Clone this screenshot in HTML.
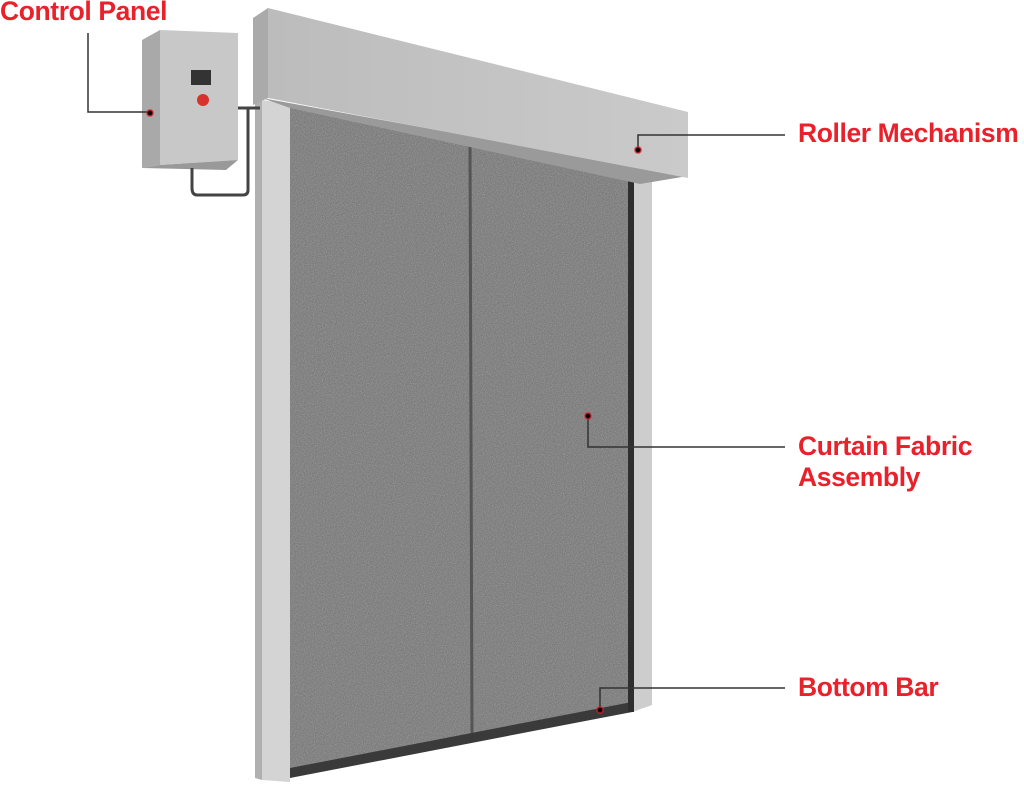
<!DOCTYPE html>
<html><head><style>
html,body{margin:0;padding:0;background:#fff;width:1024px;height:786px;overflow:hidden}
.l{position:absolute;font-family:"Liberation Sans",sans-serif;font-weight:bold;color:#e8212b;font-size:26.5px;letter-spacing:-0.4px;line-height:31px}
</style></head><body>
<svg width="1024" height="786" style="position:absolute;left:0;top:0">
<defs>
<filter id="n" x="0" y="0" width="100%" height="100%">
<feTurbulence type="fractalNoise" baseFrequency="0.9" numOctaves="2" result="t"/>
<feColorMatrix type="matrix" values="0 0 0 0 0.45 0 0 0 0 0.45 0 0 0 0 0.45 0 0 0 1.6 -0.5"/>
<feComposite in2="SourceGraphic" operator="in"/>
</filter>
<linearGradient id="m" x1="0" x2="1"><stop offset="0" stop-color="#c9c9c9"/><stop offset="0.5" stop-color="#dedede"/><stop offset="1" stop-color="#bdbdbd"/></linearGradient>
<linearGradient id="h" x1="0" y1="0" x2="1" y2="0"><stop offset="0" stop-color="#bcbcbc"/><stop offset="1" stop-color="#cacaca"/></linearGradient>
</defs>
<polygon points="290,105 632,180 632,712 290,775" fill="#7a7a7a"/>
<polygon points="290,105 632,180 632,712 290,775" fill="#000" filter="url(#n)" opacity="0.6"/>
<line x1="470" y1="140" x2="472" y2="735" stroke="#555" stroke-width="3"/>
<polygon points="290,768 632,702 632,712 290,778" fill="#3a3a3a"/>
<polygon points="255,100 290,104 290,782 255,778" fill="url(#m)"/>
<polygon points="262,100 290,104 290,782 262,780" fill="#d4d4d4"/>
<polygon points="255,100 262,100 262,780 255,778" fill="#b0b0b0"/>
<polygon points="632,178 652,176 652,705 632,712" fill="#cdcdcd"/>
<polygon points="628,180 634,180 634,712 628,712" fill="#2e2e2e"/>
<polygon points="262,98 688,176 640,184 290,108" fill="#9a9a9a"/>
<polygon points="268,8 688,112 688,178 268,98" fill="url(#h)"/>
<polygon points="253,18 268,8 268,98 253,105" fill="#aaa"/>
<polygon points="142,40 160,30 160,165 142,168" fill="#a9a9a9"/>
<polygon points="160,30 238,33 238,160 160,165" fill="#c8c8c8"/>
<polygon points="142,168 160,165 238,160 226,170" fill="#999"/>
<rect x="191" y="70" width="20" height="15" fill="#333"/>
<circle cx="203" cy="100" r="6" fill="#d8322c"/>
<path d="M238 108 L260 108 M248 108 L248 190 Q248 195 243 195 L197 195 Q192 195 192 188 L192 168" stroke="#444" stroke-width="3" fill="none"/>
<g stroke="#333" stroke-width="1.5" fill="none">
<path d="M88 33 V112 H148"/>
<path d="M638 150 V135 H785"/>
<path d="M588 416 V447 H785"/>
<path d="M600 710 V688 H785"/>
</g>
<g fill="#000" stroke="#e8212b" stroke-opacity="0.6" stroke-width="2">
<circle cx="150" cy="113" r="3"/><circle cx="638" cy="150" r="3"/>
<circle cx="588" cy="416" r="3"/><circle cx="600" cy="710" r="3"/>
</g>
</svg>
<div class="l" style="left:0;top:-4px">Control Panel</div>
<div class="l" style="left:798px;top:118px">Roller Mechanism</div>
<div class="l" style="left:798px;top:431px">Curtain Fabric<br>Assembly</div>
<div class="l" style="left:798px;top:672px">Bottom Bar</div>
</body></html>
